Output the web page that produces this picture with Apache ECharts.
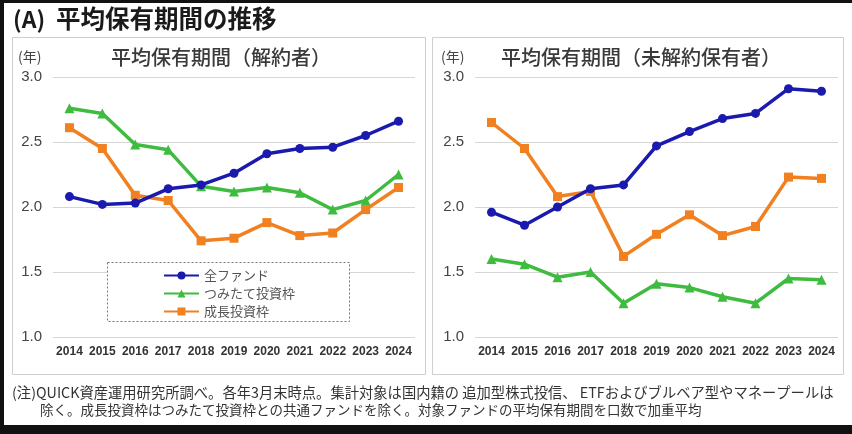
<!DOCTYPE html>
<html><head><meta charset="utf-8">
<script src="https://cdn.jsdelivr.net/npm/echarts@6/dist/echarts.min.js"></script>
<style>html,body{margin:0;padding:0;background:#111;}#c{width:852px;height:434px;}</style>
</head><body><div id="c"></div>
<script>
const years = ['2014','2015','2016','2017','2018','2019','2020','2021','2022','2023','2024'];
const seriesNames = ['全ファンド','つみたて投資枠','成長投資枠'];
// 解約者
const leftAll    = [2.08,2.02,2.03,2.14,2.17,2.26,2.41,2.45,2.46,2.55,2.66];
const leftTsumi  = [2.76,2.72,2.48,2.44,2.16,2.12,2.15,2.11,1.98,2.05,2.25];
const leftSeicho = [2.61,2.45,2.09,2.05,1.74,1.76,1.88,1.78,1.80,1.98,2.15];
// 未解約保有者
const rightAll    = [1.96,1.86,2.00,2.14,2.17,2.47,2.58,2.68,2.72,2.91,2.89];
const rightTsumi  = [1.60,1.56,1.46,1.50,1.26,1.41,1.38,1.31,1.26,1.45,1.44];
const rightSeicho = [2.65,2.45,2.08,2.12,1.62,1.79,1.94,1.78,1.85,2.23,2.22];
const yTicks = [1.0,1.5,2.0,2.5,3.0];

const colors = ['#1a1aae','#3fbb3f','#f08020'];
const symbols = ['circle','triangle','rect'];
const symSizes = [9,10,9];
const jp = '"Noto Sans CJK JP", sans-serif';
const num = '"Liberation Sans", Arial, sans-serif';

function mkSeries(data, i, gi){
  return {name: seriesNames[i], type:'line', xAxisIndex:gi, yAxisIndex:gi, data:data,
    symbol:symbols[i], symbolSize:symSizes[i], showSymbol:true,
    lineStyle:{color:colors[i], width:3.5}, itemStyle:{color:colors[i]},
    z: i===0 ? 4 : 3, animation:false};
}
function xAx(gi){return {type:'category', gridIndex:gi, data:years, boundaryGap:true,
  axisLine:{show:false}, axisTick:{show:false},
  axisLabel:{interval:0, margin:9, color:'#333', fontSize:12, fontWeight:'bold', fontFamily:num}};}
function yAx(gi){return {type:'value', gridIndex:gi, min:yTicks[0], max:yTicks[yTicks.length-1], interval:0.5,
  axisLine:{show:false}, axisTick:{show:false},
  axisLabel:{margin:11, color:'#444', fontSize:15, fontFamily:num, formatter:v=>v.toFixed(1)},
  splitLine:{lineStyle:{color:'#d6d6d6', width:1}}};}

const chart = echarts.init(document.getElementById('c'), null, {renderer:'canvas'});
chart.setOption({
  backgroundColor:'#111',
  animation:false,
  graphic:[
    {type:'rect', shape:{x:4,y:3,width:848,height:422}, style:{fill:'#fff'}, z:-10},
    {type:'rect', shape:{x:12.5,y:37.5,width:413,height:337}, style:{fill:'#fff', stroke:'#cfcfcf', lineWidth:1}, z:-9},
    {type:'rect', shape:{x:432.5,y:37.5,width:411,height:337}, style:{fill:'#fff', stroke:'#cfcfcf', lineWidth:1}, z:-9},
    {type:'text', x:13, y:19, style:{text:'(A)', font:'bold 23px '+jp, fill:'#1a1a1a', textVerticalAlign:'middle'}},
    {type:'text', x:56, y:19, style:{text:'平均保有期間の推移', font:'bold 24.5px '+jp, fill:'#1a1a1a', textVerticalAlign:'middle'}},
    {type:'text', x:221, y:57, style:{text:'平均保有期間（解約者）', font:'500 20px '+jp, fill:'#3a3a3a', textAlign:'center', textVerticalAlign:'middle'}},
    {type:'text', x:641, y:57, style:{text:'平均保有期間（未解約保有者）', font:'500 20px '+jp, fill:'#3a3a3a', textAlign:'center', textVerticalAlign:'middle'}},
    {type:'text', x:18, y:57, style:{text:'(年)', font:'14px '+jp, fill:'#444', textVerticalAlign:'middle'}},
    {type:'text', x:441, y:57, style:{text:'(年)', font:'14px '+jp, fill:'#444', textVerticalAlign:'middle'}},
    {type:'rect', shape:{x:107.5,y:262.5,width:242,height:59}, style:{fill:'#fff', stroke:'#777', lineWidth:1, lineDash:[2,2]}, z:5},
    {type:'text', x:12, y:393, style:{text:'(注)QUICK資産運用研究所調べ。各年3月末時点。集計対象は国内籍の 追加型株式投信、 ETFおよびブルベア型やマネープールは', font:'14.3px '+jp, fill:'#333', textVerticalAlign:'middle'}},
    {type:'text', x:40, y:410, style:{text:'除く。成長投資枠はつみたて投資枠との共通ファンドを除く。対象ファンドの平均保有期間を口数で加重平均', font:'13.5px '+jp, fill:'#333', textVerticalAlign:'middle'}}
  ],
  legend:{data:seriesNames, orient:'vertical', left:158, top:264, itemWidth:35, itemHeight:10, itemGap:5,
    textStyle:{color:'#555', fontSize:13, fontFamily:jp}, z:6},
  grid:[
    {left:53, top:77, width:362, height:260},
    {left:475, top:77, width:363, height:260}
  ],
  xAxis:[xAx(0), xAx(1)],
  yAxis:[yAx(0), yAx(1)],
  series:[
    mkSeries(leftAll,0,0), mkSeries(leftTsumi,1,0), mkSeries(leftSeicho,2,0),
    mkSeries(rightAll,0,1), mkSeries(rightTsumi,1,1), mkSeries(rightSeicho,2,1)
  ]
});
</script></body></html>
